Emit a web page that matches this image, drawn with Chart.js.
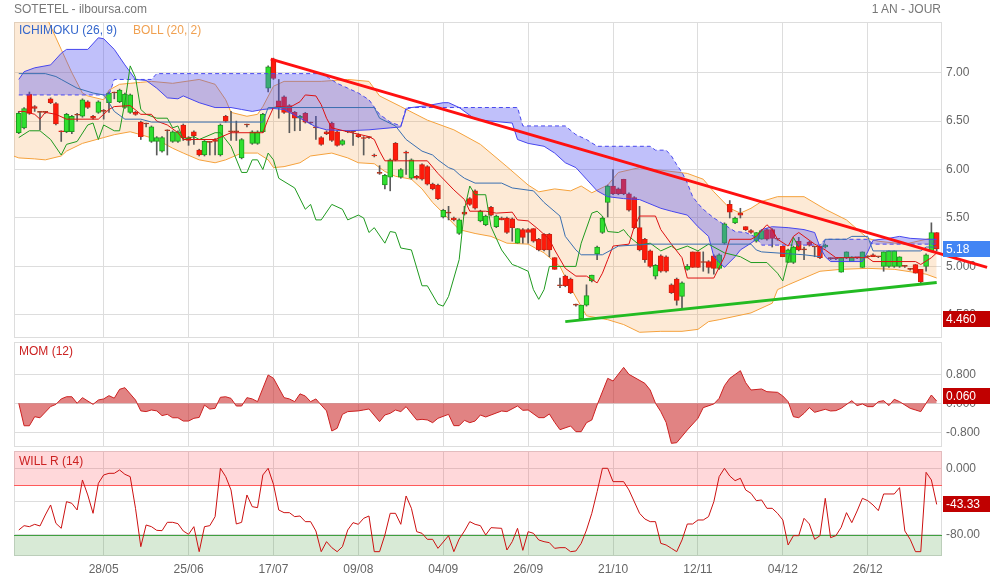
<!DOCTYPE html>
<html>
<head>
<meta charset="utf-8">
<script src="https://cdn.jsdelivr.net/npm/chart.js@4.4.1/dist/chart.umd.min.js"></script>
<style>
body { margin: 0; background: #fff; width: 990px; height: 580px; position: relative; overflow: hidden; font-family: "Liberation Sans", Arial, sans-serif; }
canvas { position: absolute; left: 0; }
.lbl { position: absolute; font-size: 12px; line-height: 14px; white-space: nowrap; }
</style>
</head>
<body>
<canvas id="price-graph" width="990" height="339" style="top:0"></canvas>
<canvas id="mom-graph" width="990" height="109" style="top:339px"></canvas>
<canvas id="will-graph" width="990" height="132" style="top:448px"></canvas>
<div class="lbl" style="left:14px;top:2px;color:#777">SOTETEL - ilboursa.com</div>
<div class="lbl" style="right:49px;top:2px;color:#777">1 AN - JOUR</div>
<div class="lbl" style="left:19px;top:23px;color:#3366cc">ICHIMOKU (26, 9)</div>
<div class="lbl" style="left:133px;top:23px;color:#f0a050">BOLL (20, 2)</div>
<div class="lbl" style="left:19px;top:344px;color:#cc2222">MOM (12)</div>
<div class="lbl" style="left:19px;top:454px;color:#cc2222">WILL R (14)</div>
<script>
const dateTickIdx = [16, 32, 48, 64, 80, 96, 112, 128, 144, 160]
const dateLabels = ['28/05', '25/06', '17/07', '09/08', '04/09', '26/09', '21/10', '12/11', '04/12', '26/12']

// daily candles, index 0 = first session shown
const openP = [6.38,6.43,6.78,6.65,6.59,6.59,6.73,6.68,6.40,6.39,6.39,6.56,6.55,6.70,6.55,6.59,6.60,6.69,6.79,6.70,
  6.64,6.59,6.59,6.49,6.47,6.29,6.29,6.19,6.40,6.29,6.29,6.46,6.33,6.39,6.20,6.15,6.28,6.31,6.15,6.55,
  6.39,6.39,6.12,6.46,6.27,6.27,6.39,6.84,7.14,6.71,6.75,6.66,6.59,6.53,6.58,6.48,6.43,6.33,6.39,6.48,
  6.39,6.26,6.39,6.39,6.36,6.33,6.33,6.15,5.96,5.84,5.92,6.27,5.92,6.18,5.91,5.93,6.05,6.03,5.85,5.84,
  5.51,5.55,5.50,5.34,5.56,5.70,5.78,5.47,5.43,5.61,5.41,5.50,5.50,5.49,5.24,5.38,5.38,5.39,5.28,5.33,
  5.33,5.09,4.80,4.90,4.87,4.60,4.46,4.60,4.85,5.13,5.35,5.66,5.83,5.80,5.90,5.75,5.71,5.40,5.28,5.16,
  4.90,5.11,5.10,4.81,4.87,4.69,4.97,5.15,5.15,5.04,5.05,5.11,4.98,5.24,5.64,5.45,5.55,5.41,5.37,5.26,
  5.28,5.38,5.38,5.28,5.21,5.04,5.04,5.26,5.17,5.25,5.20,5.21,5.20,5.08,5.08,4.94,5.09,5.05,5.09,4.99,
  5.10,5.12,5.10,5.00,5.00,5.00,5.00,5.00,4.97,5.02,4.97,5.00,5.16,5.35]
const highP = [6.60,6.64,6.80,6.66,6.60,6.60,6.74,6.69,6.40,6.58,6.56,6.58,6.73,6.71,6.56,6.71,6.62,6.80,6.80,6.83,
  6.79,6.78,6.60,6.50,6.48,6.45,6.34,6.34,6.41,6.40,6.40,6.47,6.34,6.40,6.21,6.30,6.29,6.32,6.47,6.56,
  6.60,6.50,6.32,6.47,6.40,6.40,6.58,7.07,7.15,6.93,6.76,6.67,6.60,6.56,6.59,6.49,6.55,6.34,6.40,6.49,
  6.40,6.31,6.40,6.40,6.37,6.34,6.34,6.16,6.04,5.95,6.11,6.28,6.01,6.19,6.11,5.94,6.06,6.04,5.86,5.85,
  5.59,5.62,5.51,5.49,5.62,5.71,5.79,5.58,5.53,5.62,5.53,5.51,5.51,5.50,5.39,5.39,5.39,5.39,5.29,5.34,
  5.34,5.09,4.88,4.91,4.88,4.61,4.60,4.81,4.91,5.21,5.51,5.84,6.00,5.81,5.90,5.76,5.72,5.62,5.29,5.17,
  5.02,5.12,5.11,4.82,4.88,4.84,5.02,5.15,5.15,5.15,5.06,5.12,5.13,5.45,5.68,5.51,5.60,5.41,5.38,5.35,
  5.38,5.39,5.39,5.28,5.21,5.18,5.21,5.30,5.20,5.26,5.21,5.21,5.23,5.09,5.08,5.09,5.15,5.10,5.09,5.15,
  5.11,5.13,5.10,5.15,5.16,5.16,5.10,5.01,4.98,5.02,4.97,5.13,5.45,5.35]
const lowP = [6.37,6.42,6.57,6.60,6.41,6.58,6.68,6.46,6.29,6.38,6.37,6.50,6.54,6.63,6.52,6.58,6.52,6.59,6.73,6.69,
  6.63,6.58,6.56,6.31,6.44,6.28,6.15,6.18,6.15,6.28,6.28,6.30,6.25,6.26,6.14,6.14,6.15,6.15,6.14,6.49,
  6.30,6.30,6.11,6.44,6.26,6.26,6.38,6.80,6.93,6.53,6.58,6.38,6.40,6.40,6.48,6.47,6.31,6.25,6.36,6.29,
  6.24,6.25,6.38,6.25,6.33,6.15,6.32,6.13,5.95,5.80,5.78,6.09,5.91,5.95,5.90,5.90,5.89,5.84,5.79,5.69,
  5.50,5.48,5.47,5.33,5.53,5.63,5.59,5.46,5.42,5.52,5.40,5.48,5.34,5.26,5.24,5.24,5.24,5.25,5.16,5.16,
  5.10,4.97,4.78,4.79,4.72,4.59,4.46,4.59,4.84,5.07,5.34,5.51,5.74,5.74,5.74,5.57,5.39,5.16,5.04,4.99,
  4.87,4.94,4.94,4.72,4.60,4.56,4.96,4.99,4.99,4.95,4.93,4.92,4.97,5.23,5.50,5.44,5.50,5.37,5.34,5.25,
  5.28,5.27,5.20,5.27,5.10,5.04,5.03,5.16,5.07,5.21,5.10,5.08,5.19,5.07,5.07,4.94,5.08,5.05,5.08,4.99,
  5.09,5.10,5.09,4.95,4.99,4.99,4.99,4.99,4.96,4.93,4.83,4.95,5.15,5.16]
const closeP = [6.58,6.63,6.58,6.63,6.59,6.59,6.69,6.47,6.39,6.57,6.55,6.56,6.72,6.64,6.53,6.70,6.60,6.79,6.79,6.82,
  6.78,6.77,6.57,6.34,6.47,6.44,6.33,6.33,6.40,6.39,6.39,6.33,6.30,6.35,6.15,6.29,6.28,6.29,6.46,6.50,
  6.39,6.39,6.31,6.46,6.39,6.39,6.57,7.06,6.94,6.64,6.59,6.59,6.53,6.55,6.49,6.48,6.43,6.26,6.37,6.30,
  6.25,6.30,6.39,6.39,6.34,6.32,6.33,6.14,5.96,5.94,6.10,6.10,6.00,6.17,6.10,5.91,5.90,5.85,5.80,5.70,
  5.58,5.55,5.48,5.48,5.54,5.64,5.60,5.57,5.52,5.53,5.52,5.48,5.35,5.40,5.39,5.30,5.35,5.26,5.17,5.17,
  5.17,4.97,4.80,4.80,4.73,4.60,4.60,4.70,4.91,5.20,5.50,5.83,5.75,5.75,5.75,5.58,5.40,5.17,5.07,5.00,
  5.01,4.95,4.95,4.73,4.65,4.83,5.00,4.99,4.99,5.04,4.99,4.98,5.12,5.44,5.56,5.50,5.53,5.38,5.35,5.35,
  5.37,5.28,5.29,5.28,5.10,5.17,5.20,5.17,5.17,5.22,5.20,5.09,5.22,5.08,5.08,5.09,5.15,5.10,5.09,5.15,
  5.10,5.10,5.10,5.15,5.16,5.16,5.10,5.00,4.97,4.93,4.84,5.12,5.35,5.18]

// indicator lines as [index, value]
const bollUpper = [[-1,8.2],[1,8.0],[3,7.8],[5,7.6],[6,7.48],[8,7.24],[10,7.0],[12,6.79],[13,6.76],[16,6.72],[17,6.82],[19,6.88],[21,6.89],[23,6.9],[25,6.91],[29,6.89],[34,6.93],[37,6.88],[39,6.72],[40,6.59],[43,6.55],[45,6.57],[46,6.65],[48,6.86],[50,6.91],[57,6.91],[62,6.93],[66,6.91],[68,6.76],[72,6.65],[77,6.51],[82,6.41],[87,6.26],[92,6.03],[96,5.84],[98,5.77],[101,5.8],[104,5.78],[106,5.83],[108,5.76],[111,5.84],[113,5.97],[117,6.02],[126,5.96],[129,5.9],[131,5.77],[134,5.6],[136,5.55],[138,5.6],[140,5.67],[143,5.72],[148,5.72],[152,5.59],[156,5.48],[160,5.29],[162,5.26],[167,5.23],[171,5.28],[173,5.3]]
const bollLower = [[-1,6.14],[0,6.12],[3,6.11],[5,6.1],[8,6.14],[9,6.19],[12,6.27],[16,6.33],[18,6.36],[21,6.39],[23,6.36],[26,6.31],[29,6.22],[31,6.17],[34,6.1],[37,6.07],[39,6.1],[42,6.17],[45,6.17],[47,6.1],[48,6.02],[50,6.03],[53,6.07],[55,6.14],[59,6.17],[62,6.12],[64,6.07],[67,6.06],[69,5.98],[71,5.93],[74,5.9],[76,5.8],[78,5.66],[80,5.55],[83,5.38],[86,5.34],[89,5.31],[92,5.24],[96,5.23],[99,5.14],[102,5.0],[104,4.78],[107,4.49],[111,4.45],[114,4.4],[117,4.32],[121,4.33],[125,4.33],[128,4.35],[130,4.43],[132,4.45],[138,4.52],[142,4.62],[143,4.76],[145,4.81],[148,4.88],[151,4.95],[155,4.97],[160,4.98],[165,4.97],[171,4.92],[173,4.88]]
const senkouA = [[0,6.93],[1,7.01],[3,7.05],[6,7.08],[8,7.2],[9,7.24],[13,7.24],[15,7.36],[16,7.35],[18,7.24],[20,7.08],[22,6.93],[24,6.92],[26,6.84],[28,6.74],[30,6.73],[31,6.76],[34,6.69],[37,6.64],[40,6.64],[42,6.62],[44,6.6],[46,6.62],[48,6.63],[50,6.62],[52,6.56],[54,6.5],[56,6.44],[58,6.41],[62,6.4],[66,6.41],[70,6.43],[72,6.44],[73,6.62],[74,6.64],[77,6.66],[80,6.69],[81,6.69],[83,6.64],[86,6.52],[89,6.5],[93,6.48],[94,6.31],[96,6.27],[99,6.24],[101,6.17],[103,6.07],[105,6.02],[107,5.9],[109,5.78],[111,5.72],[114,5.7],[117,5.69],[121,5.6],[123,5.57],[126,5.53],[128,5.41],[130,5.31],[131,5.1],[133,4.99],[135,5.1],[136,5.17],[138,5.24],[139,5.28],[140,5.38],[142,5.41],[145,5.4],[148,5.38],[150,5.35],[151,5.2],[152,5.1],[153,5.05],[159,5.05],[160,5.15],[161,5.27],[164,5.29],[166,5.31],[168,5.29],[171,5.28],[173,5.28]]
const senkouB = [[0,6.77],[17,6.77],[18,6.93],[25,6.93],[26,6.99],[57,6.99],[58,6.96],[60,6.89],[62,6.84],[64,6.79],[66,6.72],[68,6.57],[70,6.49],[72,6.45],[73,6.64],[94,6.64],[95,6.45],[103,6.45],[105,6.36],[107,6.31],[109,6.24],[119,6.24],[120,6.2],[122,6.2],[123,6.14],[124,6.05],[125,5.97],[126,5.86],[127,5.72],[128,5.65],[129,5.59],[131,5.5],[133,5.43],[135,5.36],[137,5.35],[139,5.3],[140,5.22],[151,5.22],[152,5.28],[160,5.28],[161,5.23],[173,5.23]]
const kijun = [[0,6.99],[5,6.99],[7,6.96],[8,6.93],[11,6.84],[14,6.79],[16,6.77],[17,6.69],[18,6.6],[20,6.52],[23,6.52],[25,6.49],[46,6.49],[47,6.64],[67,6.64],[68,6.53],[71,6.45],[73,6.31],[76,6.19],[78,6.15],[79,6.1],[81,6.02],[82,6.0],[83,5.95],[84,5.91],[86,5.86],[91,5.86],[93,5.81],[97,5.78],[99,5.66],[102,5.52],[103,5.31],[105,5.17],[106,5.12],[110,5.12],[113,5.21],[119,5.23],[138,5.23],[139,5.17],[140,5.15],[148,5.12],[151,5.1],[152,5.28],[156,5.28],[157,5.31],[160,5.31],[161,5.16],[170,5.16],[171,5.2],[173,5.2]]
const tenkan = [[0,6.6],[1,6.6],[3,6.57],[4,6.52],[5,6.59],[7,6.57],[9,6.52],[15,6.52],[16,6.57],[17,6.62],[18,6.65],[21,6.66],[23,6.57],[25,6.57],[26,6.5],[28,6.46],[30,6.38],[31,6.31],[37,6.31],[40,6.38],[46,6.38],[47,6.52],[48,6.64],[49,6.65],[51,6.64],[53,6.7],[54,6.77],[56,6.76],[57,6.67],[58,6.53],[59,6.43],[62,6.39],[66,6.34],[67,6.31],[68,6.19],[69,6.09],[77,6.09],[79,5.96],[82,5.79],[84,5.69],[85,5.57],[88,5.57],[90,5.55],[93,5.56],[94,5.48],[96,5.47],[98,5.38],[100,5.28],[101,5.17],[103,4.98],[105,4.9],[107,4.9],[109,4.83],[110,4.93],[111,5.07],[112,5.21],[115,5.23],[116,5.41],[117,5.52],[120,5.52],[121,5.38],[123,5.23],[125,5.09],[126,4.88],[131,4.88],[133,5.1],[134,5.28],[138,5.28],[139,5.31],[141,5.43],[142,5.38],[143,5.28],[145,5.21],[146,5.31],[147,5.35],[150,5.23],[152,5.17],[154,5.09],[160,5.09],[161,5.05],[169,5.05],[170,5.02],[172,5.09],[173,5.14]]
const chikou = [[0,6.33],[2,6.4],[4,6.4],[6,6.31],[8,6.15],[9,6.26],[11,6.29],[13,6.46],[14,6.48],[15,6.31],[16,6.46],[18,6.4],[19,6.4],[20,6.69],[21,7.07],[22,6.95],[23,6.62],[24,6.57],[26,6.53],[28,6.53],[29,6.43],[30,6.45],[31,6.31],[33,6.34],[34,6.31],[37,6.38],[38,6.38],[40,6.24],[42,5.97],[43,5.97],[44,6.1],[45,6.1],[46,6.0],[47,6.17],[48,6.1],[49,5.91],[52,5.81],[54,5.59],[55,5.64],[56,5.48],[57,5.48],[59,5.64],[61,5.59],[62,5.48],[64,5.53],[65,5.5],[66,5.35],[67,5.4],[69,5.24],[70,5.36],[71,5.35],[72,5.19],[74,5.17],[76,4.8],[77,4.8],[79,4.61],[80,4.59],[81,4.69],[83,5.07],[84,5.59],[85,5.83],[86,5.74],[88,5.74],[89,5.41],[91,5.17],[93,5.02],[94,5.0],[96,4.95],[97,4.76],[98,4.66],[99,4.76],[100,5.0],[105,5.0],[106,5.24],[108,5.55],[109,5.57],[110,5.52],[111,5.36],[113,5.35],[114,5.38],[115,5.31],[117,5.22],[119,5.24],[121,5.16],[123,5.21],[124,5.17],[126,5.21],[128,5.16],[130,5.23],[132,5.17],[133,5.14],[136,5.1],[138,5.04],[141,5.04],[143,4.93],[144,4.85],[145,5.07],[146,5.3],[147,5.2]]
const resistanceLine = [[47.5, 7.14], [182.5, 4.99]]
const supportLine = [[103, 4.43], [173, 4.835]]

const momentum = [[0,0.0],[1,-0.62],[2,-0.62],[3,-0.37],[4,-0.4],[6,-0.09],[7,-0.03],[8,0.12],[9,0.18],[10,0.18],[11,0.0],[12,0.155],[14,-0.03],[15,0.09],[16,0.12],[17,0.21],[18,0.14],[19,0.385],[20,0.43],[22,0.09],[23,-0.21],[24,-0.23],[25,-0.185],[26,-0.21],[27,-0.34],[28,-0.305],[29,-0.4],[30,-0.4],[31,-0.49],[32,-0.49],[33,-0.415],[34,-0.39],[35,-0.05],[36,-0.16],[37,-0.14],[38,0.165],[39,0.18],[40,0.135],[41,-0.075],[42,-0.075],[43,0.155],[44,0.12],[45,0.045],[47,0.78],[48,0.69],[50,0.155],[51,0.12],[52,0.045],[53,0.26],[54,0.2],[55,0.045],[56,0.12],[57,-0.05],[58,-0.21],[59,-0.765],[60,-0.69],[61,-0.305],[62,-0.23],[64,-0.21],[65,-0.185],[66,-0.157],[68,-0.507],[69,-0.323],[70,-0.277],[71,-0.185],[72,-0.23],[73,-0.093],[75,-0.46],[76,-0.443],[77,-0.46],[78,-0.535],[79,-0.415],[81,-0.305],[82,-0.617],[83,-0.617],[84,-0.47],[85,-0.535],[86,-0.49],[87,-0.323],[88,-0.378],[89,-0.323],[91,-0.213],[92,-0.23],[94,-0.075],[95,-0.194],[96,-0.185],[98,-0.397],[99,-0.397],[100,-0.295],[101,-0.526],[102,-0.728],[104,-0.627],[105,-0.783],[106,-0.783],[107,-0.535],[108,-0.461],[109,-0.047],[111,0.687],[112,0.614],[114,0.99],[115,0.798],[118,0.55],[119,0.366],[120,0.0],[121,-0.23],[122,-0.526],[123,-1.105],[124,-1.087],[126,-0.737],[128,-0.415],[129,-0.12],[131,-0.019],[132,0.136],[133,0.486],[134,0.687],[136,0.899],[137,0.568],[138,0.366],[140,0.394],[141,0.32],[143,0.302],[144,0.2],[145,0.045],[146,-0.37],[147,-0.397],[148,-0.277],[149,-0.12],[150,-0.249],[152,-0.166],[153,-0.213],[154,-0.203],[155,-0.139],[157,0.072],[158,-0.065],[159,-0.019],[160,-0.093],[161,-0.093],[162,0.045],[163,0.072],[164,-0.065],[165,0.109],[166,0.045],[168,-0.139],[169,-0.185],[170,-0.23],[172,0.228],[173,0.06]]
const williamsR = [[0,-74],[1,-68.8],[2,-70],[3,-67.2],[4,-69.2],[5,-56],[6,-44],[7,-66],[8,-72],[9,-40],[10,-42],[11,-50],[12,-14],[13,-32],[14,-54],[15,-18],[16,-8],[17,-6],[18,-6],[19,-2],[20,-7.2],[21,-10],[22,-48],[23,-94],[24,-68],[25,-70],[26,-74.4],[27,-74.8],[28,-64.8],[29,-64.8],[30,-66.4],[31,-75.2],[32,-79.2],[33,-70],[34,-100],[35,-70],[36,-68.8],[37,-58],[38,0],[39,-10],[40,-26],[41,-66.8],[42,-64.8],[43,-32],[44,-46],[45,-47.2],[46,-8],[47,0],[48,-19.2],[49,-50],[50,-53.2],[51,-53.2],[52,-58],[53,-57.2],[54,-64],[55,-64],[56,-75.2],[57,-100],[58,-88],[59,-95.2],[60,-100],[61,-94],[62,-74],[63,-65.2],[64,-67.2],[65,-60],[66,-57.2],[67,-100],[68,-100],[69,-80],[70,-54],[71,-54],[72,-67.2],[73,-33.2],[74,-48],[75,-76],[76,-78],[77,-85.2],[78,-85.2],[79,-96],[81,-80.8],[82,-100],[83,-84.8],[84,-75.2],[85,-64],[86,-67.2],[87,-68.8],[88,-80],[89,-71.2],[91,-72],[92,-98],[93,-88],[94,-72],[95,-98.4],[96,-76],[97,-78],[98,-86],[99,-88],[100,-89.2],[101,-96],[102,-95.2],[103,-95.2],[104,-100],[105,-99.2],[106,-90],[107,-74],[108,-54],[109,-28],[110,0],[111,0],[112,-16],[114,-16],[115,-26],[117,-54],[118,-60.8],[119,-64],[120,-64],[121,-90],[122,-92],[123,-96],[124,-100],[125,-86],[126,-66.8],[127,-66.8],[128,-62],[129,-62],[130,-58],[131,-40],[132,-10],[133,0],[134,-9.2],[135,-14.8],[136,-12],[137,-26],[138,-30],[139,-38.8],[140,-38],[141,-48],[142,-48],[143,-54],[144,-62],[145,-92],[146,-80.8],[147,-80.8],[148,-60],[149,-66.8],[150,-85.2],[151,-80.8],[152,-36],[153,-83.2],[154,-80.8],[155,-70.8],[156,-53.2],[157,-65.2],[158,-51.2],[159,-36],[160,-38.8],[161,-44],[162,-50.8],[163,-30.8],[165,-30.8],[166,-23.2],[167,-75.2],[168,-85.2],[169,-100],[170,-100],[171,-4.8],[172,-14],[173,-43.33]]

const priceTicks = [4.5, 5, 5.5, 6, 6.5, 7]
const priceTickLabels = ['4.500', '5.000', '5.50', '6.00', '6.50', '7.00']
const momTicks = [-0.8, 0, 0.8]
const momTickLabels = ['-0.800', '0.000', '0.800']
const willTicks = [-80, -40, 0]
const willTickLabels = ['-80.00', '-40.00', '0.000']
const willOverbought = -20
const willOversold = -80
const lastClose = 5.18
const lowestLow = 4.46
const lastMom = 0.06
const lastWill = -43.33

const GRID = '#dddddd'
const FONT = '"Liberation Sans", Arial, sans-serif'
Chart.defaults.font.family = FONT
Chart.defaults.font.size = 12
Chart.defaults.color = '#666'

function pts(pairs) {
    return pairs.map(p => ({x: p[0], y: p[1]}))
}

function lineSet(label, pairs, color, extra) {
    return Object.assign({
        type: 'line', label: label, data: pts(pairs), borderColor: color, borderWidth: 1,
        pointRadius: 0, fill: false, tension: 0, order: 4
    }, extra || {})
}

// keep the axes from pushing the plot area around
function noPad(s) {
    s.paddingTop = 0
    s.paddingBottom = 0
    s.paddingLeft = 0
    s.paddingRight = 0
}

function xScale(showLabels) {
    return {
        type: 'linear', min: -0.9, max: 174, offset: false,
        afterBuildTicks: s => { s.ticks = dateTickIdx.map(v => ({value: v})) },
        afterFit: s => { s.height = showLabels ? 24 : 0; noPad(s) },
        grid: {color: GRID, drawTicks: false, offset: false},
        border: {display: false},
        ticks: {
            display: showLabels, autoSkip: false, maxRotation: 0, padding: 6, color: '#666',
            callback: v => dateLabels[dateTickIdx.indexOf(v)]
        }
    }
}

function yScale(min, max, ticks, labels) {
    return {
        position: 'right', min: min, max: max,
        afterBuildTicks: s => { s.ticks = ticks.map(v => ({value: v})) },
        afterFit: s => { s.width = 48; noPad(s) },
        grid: {color: GRID, drawTicks: false},
        border: {display: false},
        ticks: {padding: 4, color: '#666', callback: v => labels[ticks.indexOf(v)]}
    }
}

const framePlugin = {
    id: 'frame',
    beforeDatasetsDraw(chart) {
        const ctx = chart.ctx, a = chart.chartArea
        ctx.save()
        ctx.strokeStyle = GRID
        ctx.lineWidth = 1
        ctx.strokeRect(a.left + 0.5, a.top + 0.5, a.right - a.left - 1, a.bottom - a.top - 1)
        ctx.restore()
    }
}

function tagPlugin(tags) {
    return {
        id: 'tags',
        afterDraw(chart) {
            const ctx = chart.ctx, right = chart.chartArea.right
            ctx.save()
            tags.forEach(t => {
                const y = chart.scales.y.getPixelForValue(t.value) + (t.shift || 0)
                ctx.fillStyle = t.bg
                ctx.fillRect(right + 1, Math.round(y - 8), chart.width - right - 1, 16)
                ctx.fillStyle = '#fff'
                ctx.font = '12px ' + FONT
                ctx.textBaseline = 'middle'
                ctx.textAlign = 'left'
                ctx.fillText(t.text, right + 4, y + 0.5)
            })
            ctx.restore()
        }
    }
}

const willBands = {
    id: 'willBands',
    beforeDatasetsDraw(chart) {
        const ctx = chart.ctx, a = chart.chartArea, y = chart.scales.y
        const yHi = Math.round(y.getPixelForValue(willOverbought))
        const yLo = Math.round(y.getPixelForValue(willOversold))
        ctx.save()
        ctx.fillStyle = 'rgba(255,60,70,0.2)'
        ctx.fillRect(a.left, a.top, a.right - a.left, yHi - a.top)
        ctx.fillStyle = 'rgba(60,150,50,0.2)'
        ctx.fillRect(a.left, yLo, a.right - a.left, a.bottom - yLo)
        ctx.lineWidth = 1
        ctx.strokeStyle = '#ff5a5a'
        ctx.beginPath(); ctx.moveTo(a.left, yHi + 0.5); ctx.lineTo(a.right, yHi + 0.5); ctx.stroke()
        ctx.strokeStyle = '#3fa03f'
        ctx.beginPath(); ctx.moveTo(a.left, yLo + 0.5); ctx.lineTo(a.right, yLo + 0.5); ctx.stroke()
        ctx.restore()
    }
}

function baseOptions(top, bottom, x, y) {
    return {
        responsive: false, animation: false, events: [],
        layout: {padding: {top: top, bottom: bottom, left: 14, right: 0}},
        plugins: {legend: {display: false}, tooltip: {enabled: false}, filler: {drawTime: 'beforeDatasetDraw'}},
        scales: {x: x, y: y}
    }
}

function buildPrice() {
    const up = closeP.map((c, i) => c > openP[i])
    const flat = closeP.map((c, i) => c === openP[i])
    const bodyFill = up.map((u, i) => flat[i] ? '#b03018' : (u ? '#2fe02f' : '#ff1a0a'))
    const bodyLine = up.map((u, i) => flat[i] ? '#b03018' : (u ? '#1f9a1f' : '#d02010'))

    const datasets = [
        lineSet('boll up', bollUpper, '#f5a23c', {fill: '+1', backgroundColor: 'rgba(245,160,70,0.22)', order: 10}),
        lineSet('boll low', bollLower, '#f5a23c', {order: 10}),
        {
            type: 'bar', label: 'wicks', grouped: false, barThickness: 1, order: 8,
            data: closeP.map((c, i) => ({x: i, y: [lowP[i], highP[i]]})),
            backgroundColor: '#5a5a5a'
        },
        {
            type: 'bar', label: 'bodies', grouped: false, barThickness: 5, order: 7,
            minBarLength: 1, borderSkipped: false, borderWidth: 1,
            data: closeP.map((c, i) => ({x: i, y: [openP[i], c]})),
            backgroundColor: bodyFill, borderColor: bodyLine
        },
        lineSet('senkou A', senkouA, '#4646ee', {fill: '+1', backgroundColor: 'rgba(80,80,241,0.36)', order: 6}),
        lineSet('senkou B', senkouB, '#4646ee', {borderDash: [4, 3], order: 6}),
        lineSet('kijun', kijun, '#3a6fb0'),
        lineSet('tenkan', tenkan, '#dd1111'),
        lineSet('chikou', chikou, '#1f9a1f'),
        lineSet('resistance', resistanceLine, '#ff1010', {borderWidth: 3, order: 2, clip: false}),
        lineSet('support', supportLine, '#22bb22', {borderWidth: 3, order: 2})
    ]

    return new Chart(document.getElementById('price-graph'), {
        type: 'bar',
        data: {datasets: datasets},
        options: baseOptions(22, 1, xScale(false), yScale(4.261, 7.523, priceTicks, priceTickLabels)),
        plugins: [framePlugin, tagPlugin([
            {value: lastClose, text: lastClose.toFixed(2), bg: '#4285f4'},
            {value: lowestLow, text: lowestLow.toFixed(3), bg: '#c00000'}
        ])]
    })
}

function buildMomentum() {
    return new Chart(document.getElementById('mom-graph'), {
        type: 'line',
        data: {datasets: [lineSet('mom', momentum, '#cc2020', {fill: 'origin', backgroundColor: 'rgba(200,30,30,0.55)'})]},
        options: baseOptions(3, 1, xScale(false), yScale(-1.206, 1.69, momTicks, momTickLabels)),
        plugins: [framePlugin, tagPlugin([{value: lastMom, text: lastMom.toFixed(3), bg: '#c00000', shift: -5}])]
    })
}

function buildWilliams() {
    return new Chart(document.getElementById('will-graph'), {
        type: 'line',
        data: {datasets: [lineSet('will r', williamsR, '#cc1111')]},
        options: baseOptions(3, 0, xScale(true), yScale(-105.2, 20.76, willTicks, willTickLabels)),
        plugins: [framePlugin, willBands, tagPlugin([{value: lastWill, text: lastWill.toFixed(2), bg: '#c00000'}])]
    })
}

buildPrice()
buildMomentum()
buildWilliams()
</script>
</body>
</html>
